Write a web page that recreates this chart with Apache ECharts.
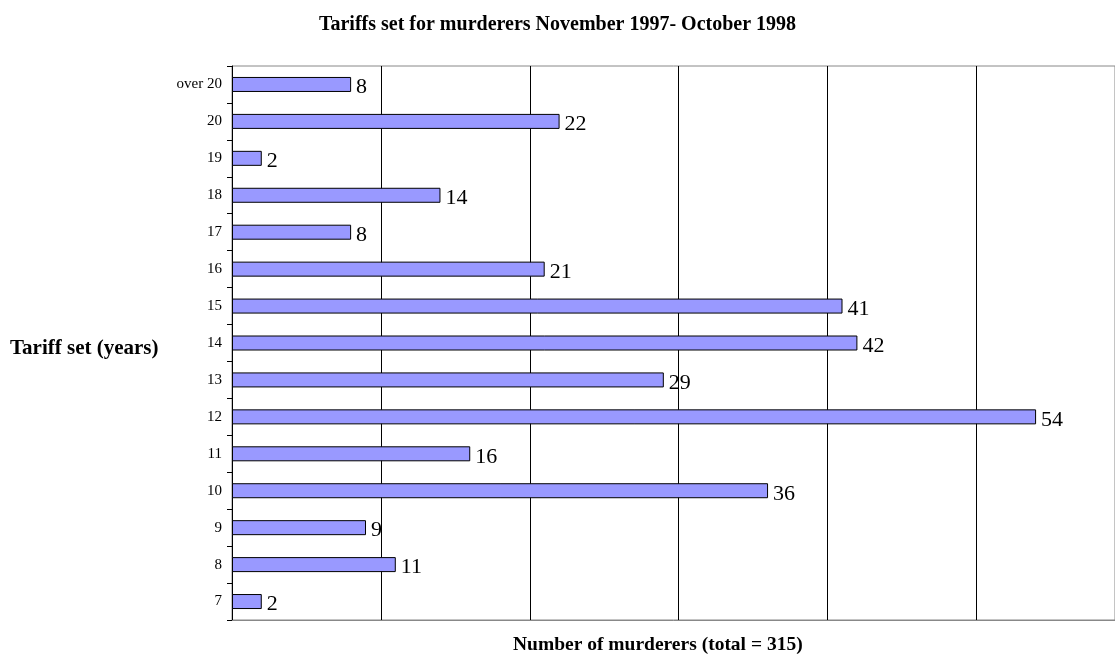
<!DOCTYPE html>
<html>
<head>
<meta charset="utf-8">
<script src="https://cdn.jsdelivr.net/npm/echarts@6/dist/echarts.min.js"></script>
<style>
  html, body { margin: 0; padding: 0; background: #fff; }
  #chart { width: 1115px; height: 658px; }
</style>
</head>
<body>
<div id="chart"></div>
<script>
var categories = ['7', '8', '9', '10', '11', '12', '13', '14', '15', '16', '17', '18', '19', '20', 'over 20']
var murderers = [2, 11, 9, 36, 16, 54, 29, 42, 41, 21, 8, 14, 2, 22, 8]

var chart = echarts.init(document.getElementById('chart'))
var serif = 'Liberation Serif, Times New Roman, serif'

chart.setOption({
  animation: false,
  textStyle: { fontFamily: serif },
  title: {
    text: 'Tariffs set for murderers November 1997- October 1998',
    left: 'center',
    top: 10,
    textStyle: { fontFamily: serif, fontSize: 20, fontWeight: 'bold', color: '#000' }
  },
  grid: {
    left: 232,
    top: 66,
    bottom: 38,
    right: 0,
    show: true,
    borderColor: '#888',
    borderWidth: 1
  },
  graphic: [
    {
      type: 'text',
      left: 10,
      top: 338,
      style: { text: 'Tariff set (years)', font: 'bold 21px ' + serif, fill: '#000' }
    },
    {
      type: 'text',
      left: 513,
      top: 635,
      style: { text: 'Number of murderers (total = 315)', font: 'bold 19.5px ' + serif, fill: '#000' }
    }
  ],
  xAxis: {
    type: 'value',
    min: 0,
    // 60 would sit just past the right edge of the window
    max: 59.3,
    interval: 10,
    axisLine: { show: true, lineStyle: { color: '#888' } },
    axisTick: { show: false },
    axisLabel: { show: false },
    splitLine: { show: true, lineStyle: { color: '#000', width: 1 } }
  },
  yAxis: {
    type: 'category',
    data: categories,
    axisLine: { show: true, lineStyle: { color: '#000' } },
    axisTick: { show: true, length: 5, lineStyle: { color: '#000' } },
    axisLabel: { color: '#000', fontSize: 15, fontFamily: serif, margin: 10, padding: [2, 0, 0, 0] }
  },
  series: [
    {
      type: 'bar',
      data: murderers,
      barWidth: 15,
      itemStyle: { color: '#9999FF', borderColor: '#000', borderWidth: 1 },
      label: {
        show: true,
        position: 'right',
        distance: 5,
        offset: [0, 3],
        color: '#000',
        fontSize: 22,
        fontFamily: serif
      }
    }
  ]
})
</script>
</body>
</html>
